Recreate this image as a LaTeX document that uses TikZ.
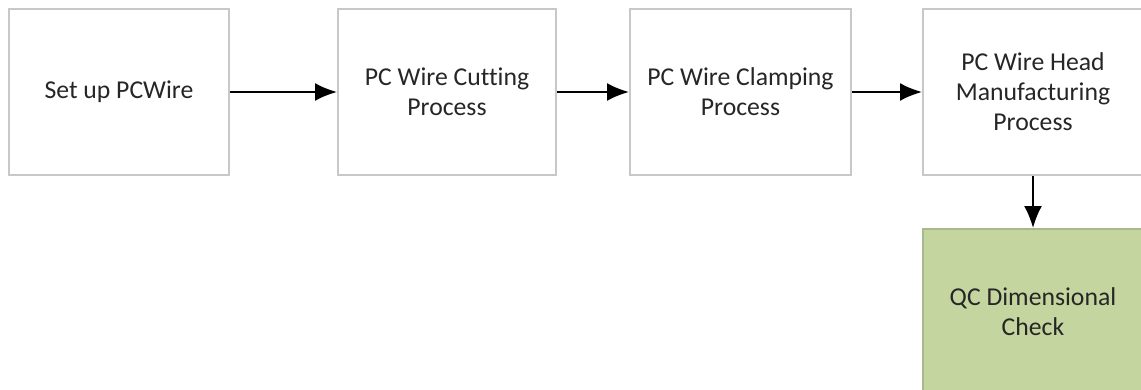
\documentclass[tikz,border=0pt]{standalone}
\usepackage{fontspec}
\setmainfont[Ligatures={NoCommon}]{Carlito}
\usetikzlibrary{arrows.meta}
\definecolor{boxgray}{HTML}{C8C8C8}
\definecolor{qcgreen}{HTML}{C4D59F}
\definecolor{qcborder}{HTML}{A8B890}
\definecolor{txt}{HTML}{262626}
\begin{document}
\begin{tikzpicture}[x=0.5pt,y=-0.5pt,
  box/.style={draw=boxgray, line width=1pt, fill=white, minimum height=83pt,
    inner sep=0pt, align=center, text=txt, font=\fontsize{12.85}{15}\selectfont},
  flow/.style={-{Latex[length=11pt,width=9pt]}, line width=1pt, black}]
\useasboundingbox (0,0) rectangle (1141,390);
\clip (0,0) rectangle (1141,390);
\node[box, minimum width=110pt] (a) at (119,92) {Set up PCWire};
\node[box, minimum width=109pt] (b) at (447,92) {PC Wire Cutting\\Process};
\node[box, minimum width=110.5pt] (c) at (740.5,92) {PC Wire Clamping\\Process};
\node[box, minimum width=110pt] (d) at (1033,92) {PC Wire Head\\Manufacturing\\Process};
\node[box, fill=qcgreen, draw=qcborder, minimum width=110pt] (e) at (1033,312) {QC Dimensional\\Check};
\draw[flow] (a) -- (b);
\draw[flow] (b) -- (c);
\draw[flow] (c) -- (d);
\draw[flow] (d) -- (e);
\end{tikzpicture}
\end{document}
